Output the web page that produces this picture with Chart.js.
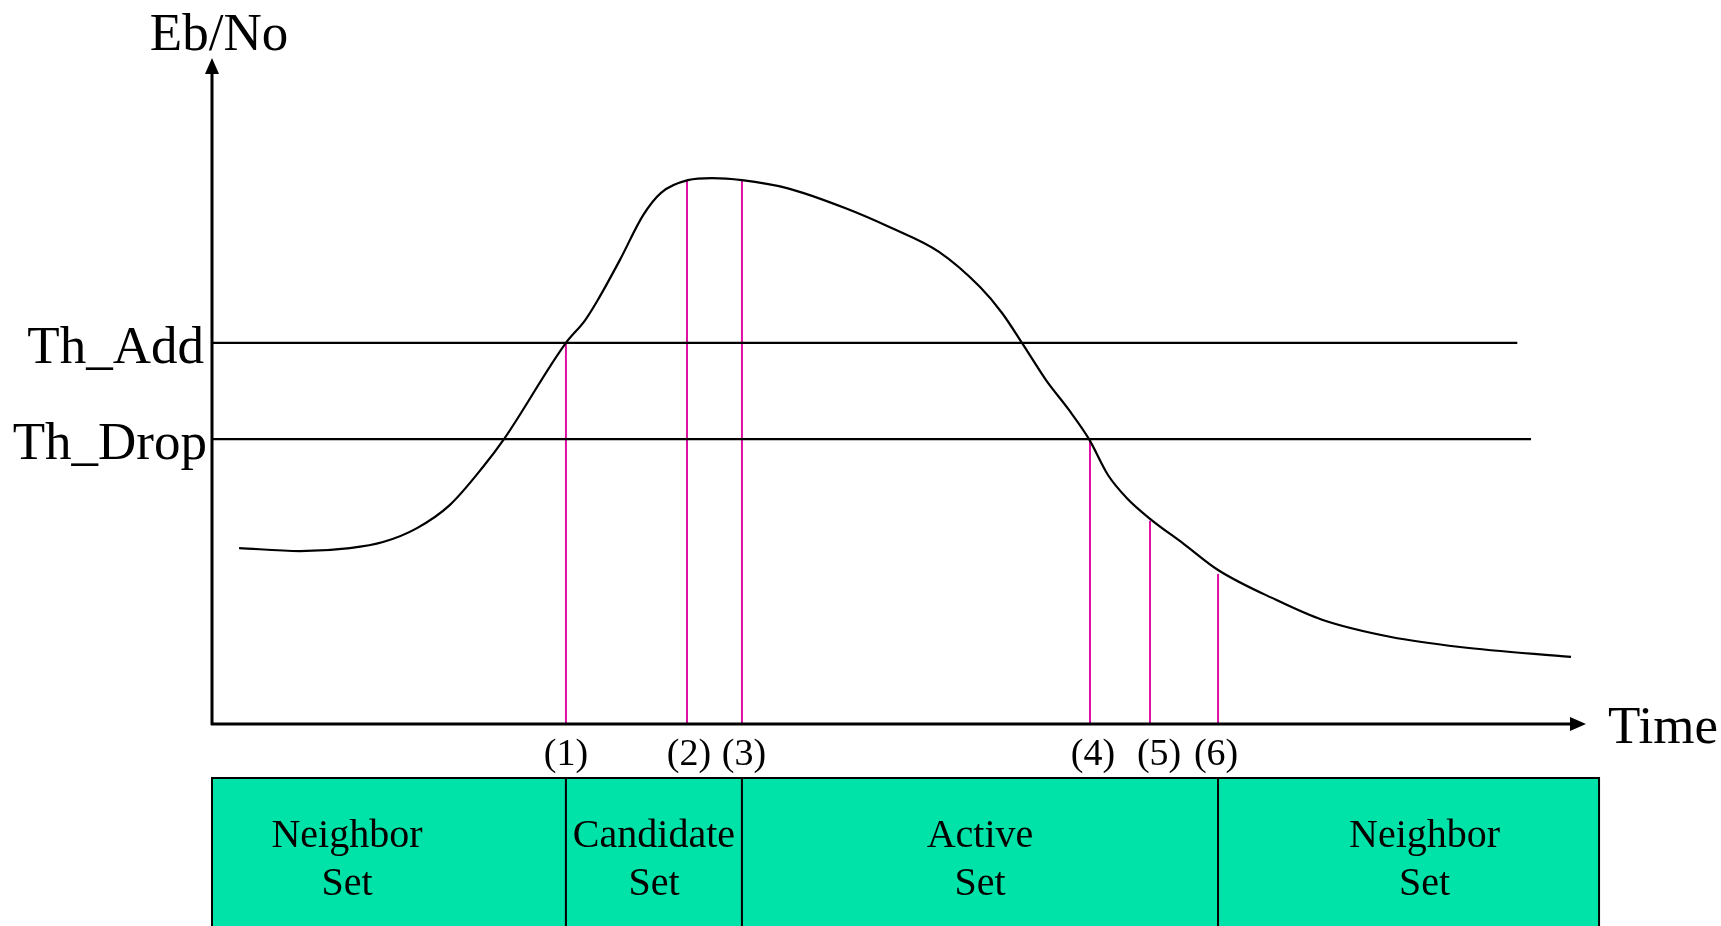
<!DOCTYPE html>
<html>
<head>
<meta charset="utf-8">
<title>Eb/No soft handoff</title>
<script src="https://cdn.jsdelivr.net/npm/chart.js@4.4.1/dist/chart.umd.min.js"></script>
<style>
  html, body { margin: 0; padding: 0; background: #fff; }
  canvas { display: block; }
</style>
</head>
<body>
<canvas id="grafico" width="1721" height="926"></canvas>
<script>
// time axis 0..100, Eb/No axis 0..100 (arbitrary units)
var curveX = [1.97, 6.40, 10.04, 12.45, 14.92, 17.32, 19.72, 21.25, 25.76, 27.15, 28.09, 29.69, 31.37, 32.68, 34.64, 36.39, 38.57, 41.85, 46.07, 49.34, 52.91, 55.90, 57.50, 58.95, 60.70, 62.37, 63.83, 65.21, 66.59, 68.27, 70.74, 73.22, 77.44, 80.79, 85.81, 90.83, 98.91];
var curveY = [26.5, 26.05, 26.5, 27.4, 29.5, 33.0, 38.7, 42.9, 57.4, 60.8, 63.9, 69.9, 76.6, 80.0, 81.9, 82.2, 81.9, 80.7, 77.7, 74.8, 71.1, 65.8, 61.9, 57.4, 51.8, 47.3, 42.9, 37.5, 34.0, 30.9, 27.1, 23.2, 18.7, 15.7, 13.1, 11.6, 10.1];

var thresholdNames = ['Th_Add', 'Th_Drop'];
var thresholdValues = [57.4, 42.9];
var thresholdEnds = [95.0, 96.0];

var eventLabels = ['(1)', '(2)', '(3)', '(4)', '(5)', '(6)'];
var eventX = [25.76, 34.57, 38.57, 63.9, 68.27, 73.22];
var eventTop = [57.4, 81.8, 81.9, 42.9, 30.6, 22.6];

var setNames = [['Neighbor', 'Set'], ['Candidate', 'Set'], ['Active', 'Set'], ['Neighbor', 'Set']];
var setBounds = [0, 25.76, 38.57, 73.22, 100.95];

var SERIF = '"Liberation Serif", "Times New Roman", serif';
var MAGENTA = '#DE10A2';
var TEAL = '#00E3A8';

var datasets = [];
datasets.push({
    label: 'Eb/No',
    data: curveX.map(function (x, i) { return { x: x, y: curveY[i] }; }),
    borderColor: '#000',
    borderWidth: 2.2,
    cubicInterpolationMode: 'monotone',
    pointRadius: 0,
    showLine: true
});
for (var i = 0; i < thresholdNames.length; i++) {
    datasets.push({
        label: thresholdNames[i],
        data: [{ x: 0, y: thresholdValues[i] }, { x: thresholdEnds[i], y: thresholdValues[i] }],
        borderColor: '#000',
        borderWidth: 2.2,
        pointRadius: 0,
        showLine: true
    });
}
for (var j = 0; j < eventLabels.length; j++) {
    datasets.push({
        label: eventLabels[j],
        data: [{ x: eventX[j], y: 0 }, { x: eventX[j], y: eventTop[j] }],
        borderColor: MAGENTA,
        borderWidth: 2,
        pointRadius: 0,
        showLine: true
    });
}

// axes with arrows, labels and the set boxes under the time axis
var desenho = {
    id: 'desenho',
    beforeDatasetsDraw: function (chart) {
        var ctx = chart.ctx;
        var xs = chart.scales.x;
        var area = chart.chartArea;
        ctx.save();

        // set boxes
        var boxTop = area.bottom + 54;
        var boxBottom = chart.height + 5;
        var textShift = [-42, 0, 0, 16];
        for (var k = 0; k < setNames.length; k++) {
            var x0 = xs.getPixelForValue(setBounds[k]);
            var x1 = xs.getPixelForValue(setBounds[k + 1]);
            ctx.fillStyle = TEAL;
            ctx.fillRect(x0, boxTop, x1 - x0, boxBottom - boxTop);
            ctx.strokeStyle = '#000';
            ctx.lineWidth = 2;
            ctx.strokeRect(x0, boxTop, x1 - x0, boxBottom - boxTop);
            ctx.fillStyle = '#000';
            ctx.font = '40px ' + SERIF;
            ctx.textAlign = 'center';
            ctx.textBaseline = 'alphabetic';
            var cx = (x0 + x1) / 2 + textShift[k];
            ctx.fillText(setNames[k][0], cx, boxTop + 69);
            ctx.fillText(setNames[k][1], cx, boxTop + 117);
        }
        ctx.restore();
    },
    afterDraw: function (chart) {
        var ctx = chart.ctx;
        var xs = chart.scales.x, ys = chart.scales.y;
        var area = chart.chartArea;
        ctx.save();
        ctx.strokeStyle = '#000';
        ctx.fillStyle = '#000';
        ctx.lineWidth = 3;

        // y axis
        ctx.beginPath();
        ctx.moveTo(area.left, area.bottom + 1);
        ctx.lineTo(area.left, area.top + 10);
        ctx.stroke();
        ctx.beginPath();
        ctx.moveTo(area.left, area.top - 2);
        ctx.lineTo(area.left - 7, area.top + 14);
        ctx.lineTo(area.left + 7, area.top + 14);
        ctx.closePath();
        ctx.fill();

        // x axis
        ctx.beginPath();
        ctx.moveTo(area.left - 1, area.bottom);
        ctx.lineTo(area.right - 10, area.bottom);
        ctx.stroke();
        ctx.beginPath();
        ctx.moveTo(area.right, area.bottom);
        ctx.lineTo(area.right - 16, area.bottom - 7);
        ctx.lineTo(area.right - 16, area.bottom + 7);
        ctx.closePath();
        ctx.fill();

        // axis titles
        ctx.font = '53px ' + SERIF;
        ctx.textBaseline = 'alphabetic';
        ctx.textAlign = 'center';
        ctx.fillText('Eb/No', area.left + 7, 50);
        ctx.textAlign = 'left';
        ctx.fillText('Time', area.right + 22, area.bottom + 19);

        // threshold names
        ctx.textAlign = 'right';
        for (var t = 0; t < thresholdNames.length; t++) {
            ctx.fillText(thresholdNames[t], area.left - 8 + t * 3, ys.getPixelForValue(thresholdValues[t]) + 20);
        }

        // event numbers
        var labelShift = [0, 2, 2, 3, 9, -2];
        ctx.font = '38px ' + SERIF;
        ctx.textAlign = 'center';
        for (var e = 0; e < eventLabels.length; e++) {
            ctx.fillText(eventLabels[e], xs.getPixelForValue(eventX[e]) + labelShift[e], area.bottom + 41);
        }
        ctx.restore();
    }
};

var ctx = document.getElementById('grafico').getContext('2d');
window.grafico = new Chart(ctx, {
    type: 'scatter',
    data: { datasets: datasets },
    options: {
        responsive: false,
        animation: false,
        devicePixelRatio: 1,
        layout: { padding: { left: 212, right: 135, top: 60, bottom: 202 } },
        scales: {
            x: { type: 'linear', min: 0, max: 100, display: false },
            y: { type: 'linear', min: 0, max: 100, display: false }
        },
        plugins: {
            legend: { display: false },
            tooltip: { enabled: false }
        }
    },
    plugins: [desenho]
});
</script>
</body>
</html>
